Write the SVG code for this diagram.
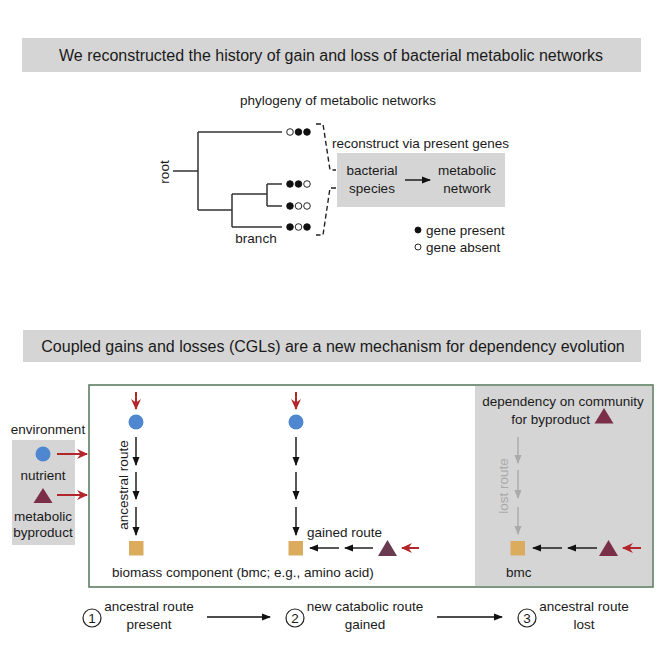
<svg xmlns="http://www.w3.org/2000/svg" width="664" height="664" viewBox="0 0 664 664">
<defs>
<style>
text{font-family:"Liberation Sans",Arial,sans-serif;fill:#1a1a1a;font-size:13.5px}
.mid{text-anchor:middle}
.end{text-anchor:end}
.banner{fill:#d5d5d5}
.ban{font-size:16px}
.tree{stroke:#333;stroke-width:1.5;fill:none}
.dot{stroke:#111;stroke-width:0.9}
.f{fill:#111}
.o{fill:#fff}
.dash{stroke:#222;stroke-width:1.4;fill:none;stroke-dasharray:5,3}
.blk{stroke:#111;stroke-width:1.4;fill:none}
.red{stroke:#b3262b;stroke-width:2;fill:none}
.gry{stroke:#aaa;stroke-width:1.4;fill:none}
.nut{fill:#4f86d0}
.tri{fill:#7a2e48}
.tri2{fill:#6a3a50}
.bmc{fill:#dbab5e}
.num{fill:#fff;stroke:#222;stroke-width:1.2}
</style>
<marker id="ab" markerUnits="userSpaceOnUse" markerWidth="9" markerHeight="8" refX="8" refY="4" orient="auto"><path d="M0,0.5 L9,4 L0,7.5 z" fill="#111"/></marker>
<marker id="ag" markerUnits="userSpaceOnUse" markerWidth="9" markerHeight="8" refX="8" refY="4" orient="auto"><path d="M0,0.5 L9,4 L0,7.5 z" fill="#aaa"/></marker>
<marker id="ar" markerUnits="userSpaceOnUse" markerWidth="11" markerHeight="10" refX="10" refY="5" orient="auto"><path d="M0,0 L11,5 L0,10 L3.5,5 z" fill="#b3262b"/></marker>
</defs>

<g id="banner-top">
<rect class="banner" x="22" y="38" width="619" height="34"/>
<text class="mid ban" x="331" y="61">We reconstructed the history of gain and loss of bacterial metabolic networks</text>
</g>

<g id="phylogeny">
<text class="mid" x="338" y="105">phylogeny of metabolic networks</text>
<path class="tree" d="M173,171 H198 M198,132 V210 M198,132 H282 M198,210 H232 M232,194 V227 M232,194 H267 M267,184 V206 M267,184 H282 M267,206 H282 M232,227 H282"/>
<text class="mid" transform="translate(169,172) rotate(-90)">root</text>
<text class="mid" x="256" y="243">branch</text>
</g>

<g id="genes">
<circle class="dot o" cx="290" cy="132" r="3.3"/><circle class="dot f" cx="298.5" cy="132" r="3.3"/><circle class="dot f" cx="307" cy="132" r="3.3"/>
<circle class="dot f" cx="290" cy="184" r="3.3"/><circle class="dot f" cx="298.5" cy="184" r="3.3"/><circle class="dot o" cx="307" cy="184" r="3.3"/>
<circle class="dot f" cx="290" cy="206" r="3.3"/><circle class="dot o" cx="298.5" cy="206" r="3.3"/><circle class="dot o" cx="307" cy="206" r="3.3"/>
<circle class="dot f" cx="290" cy="227" r="3.3"/><circle class="dot o" cx="298.5" cy="227" r="3.3"/><circle class="dot f" cx="307" cy="227" r="3.3"/>
</g>

<g id="reconstruct">
<rect class="banner" x="337" y="153" width="168" height="54"/>
<text x="332" y="148">reconstruct via present genes</text>
<text class="mid" x="372" y="175">bacterial</text>
<text class="mid" x="372" y="193">species</text>
<text class="mid" x="467" y="175">metabolic</text>
<text class="mid" x="467" y="193">network</text>
</g>

<g id="legend">
<circle class="dot f" cx="418" cy="230" r="3"/>
<text x="426" y="234.5">gene present</text>
<circle class="dot o" cx="418" cy="247" r="3"/>
<text x="426" y="251.5">gene absent</text>
</g>

<g id="banner-bottom">
<rect class="banner" x="23" y="330" width="618" height="32"/>
<text class="mid ban" x="333" y="352">Coupled gains and losses (CGLs) are a new mechanism for dependency evolution</text>
</g>

<g id="panel">
<rect x="89" y="385" width="564" height="202" fill="#fff" stroke="#5e7d62" stroke-width="1.6"/>
<rect x="475" y="386" width="177" height="200" fill="#d5d5d5"/>
</g>

<g id="environment">
<text class="mid" x="48" y="434">environment</text>
<rect class="banner" x="12" y="440" width="63" height="105"/>
<circle class="nut" cx="43" cy="454" r="7.5"/>
<text class="mid" x="43" y="480">nutrient</text>
<path class="tri" d="M43,488 L52.5,503 L33.5,503 z"/>
<text class="mid" x="43" y="521">metabolic</text>
<text class="mid" x="43" y="537">byproduct</text>
</g>

<g id="stage1">
<circle class="nut" cx="136" cy="422" r="7.5"/>
<rect class="bmc" x="129" y="541" width="14.5" height="14.5"/>
<text class="mid" transform="translate(128,485) rotate(-90)">ancestral route</text>
<text x="112" y="577">biomass component (bmc; e.g., amino acid)</text>
</g>

<g id="stage2">
<circle class="nut" cx="296" cy="422" r="7.5"/>
<rect class="bmc" x="288.5" y="541" width="14.5" height="14.5"/>
<path class="tri2" d="M387.5,540 L397,556 L378,556 z"/>
<text x="307" y="537">gained route</text>
</g>

<g id="stage3">
<text class="mid" x="563" y="406">dependency on community</text>
<text class="end" x="590" y="424">for byproduct</text>
<path class="tri" d="M604,408 L613.5,423.5 L594.5,423.5 z"/>
<text class="mid" transform="translate(508,486) rotate(-90)" style="fill:#aaa">lost route</text>
<rect class="bmc" x="510.5" y="541" width="14.5" height="14.5"/>
<path class="tri" d="M608.5,540 L618,556 L599,556 z"/>
<text x="506" y="577">bmc</text>
</g>

<g id="steps">
<circle class="num" cx="92" cy="618" r="9"/><text class="mid" x="92" y="623">1</text>
<text class="mid" x="149" y="611">ancestral route</text>
<text class="mid" x="149" y="629">present</text>
<circle class="num" cx="295" cy="618" r="9"/><text class="mid" x="295" y="623">2</text>
<text class="mid" x="365" y="611">new catabolic route</text>
<text class="mid" x="365" y="629">gained</text>
<circle class="num" cx="527" cy="618" r="9"/><text class="mid" x="527" y="623">3</text>
<text class="mid" x="584" y="611">ancestral route</text>
<text class="mid" x="584" y="629">lost</text>
</g>

<g id="connectors">
<path class="dash" d="M316,124 H323 L330,170 H336"/>
<path class="dash" d="M336,188 H330 L323,235 H316"/>
<line class="blk" x1="405" y1="180" x2="430" y2="180" marker-end="url(#ab)"/>
<line class="red" x1="57" y1="454" x2="87" y2="454" marker-end="url(#ar)"/>
<line class="red" x1="57" y1="495" x2="87" y2="495" marker-end="url(#ar)"/>
<line class="red" x1="136" y1="392" x2="136" y2="409" marker-end="url(#ar)"/>
<line class="blk" x1="136" y1="437" x2="136" y2="465" marker-end="url(#ab)"/>
<line class="blk" x1="136" y1="472" x2="136" y2="499" marker-end="url(#ab)"/>
<line class="blk" x1="136" y1="507" x2="136" y2="535" marker-end="url(#ab)"/>
<line class="red" x1="296" y1="392" x2="296" y2="409" marker-end="url(#ar)"/>
<line class="blk" x1="296" y1="437" x2="296" y2="465" marker-end="url(#ab)"/>
<line class="blk" x1="296" y1="472" x2="296" y2="499" marker-end="url(#ab)"/>
<line class="blk" x1="296" y1="507" x2="296" y2="535" marker-end="url(#ab)"/>
<line class="blk" x1="339" y1="548" x2="310" y2="548" marker-end="url(#ab)"/>
<line class="blk" x1="373" y1="548" x2="345" y2="548" marker-end="url(#ab)"/>
<line class="red" x1="419" y1="548" x2="402" y2="548" marker-end="url(#ar)"/>
<line class="gry" x1="518" y1="437" x2="518" y2="463" marker-end="url(#ag)"/>
<line class="gry" x1="518" y1="470" x2="518" y2="498" marker-end="url(#ag)"/>
<line class="gry" x1="518" y1="507" x2="518" y2="534" marker-end="url(#ag)"/>
<line class="blk" x1="562" y1="548" x2="533" y2="548" marker-end="url(#ab)"/>
<line class="blk" x1="597" y1="548" x2="568" y2="548" marker-end="url(#ab)"/>
<line class="red" x1="641" y1="548" x2="623" y2="548" marker-end="url(#ar)"/>
<line class="blk" x1="207" y1="617" x2="270" y2="617" marker-end="url(#ab)"/>
<line class="blk" x1="437" y1="617" x2="502" y2="617" marker-end="url(#ab)"/>
</g>
</svg>
